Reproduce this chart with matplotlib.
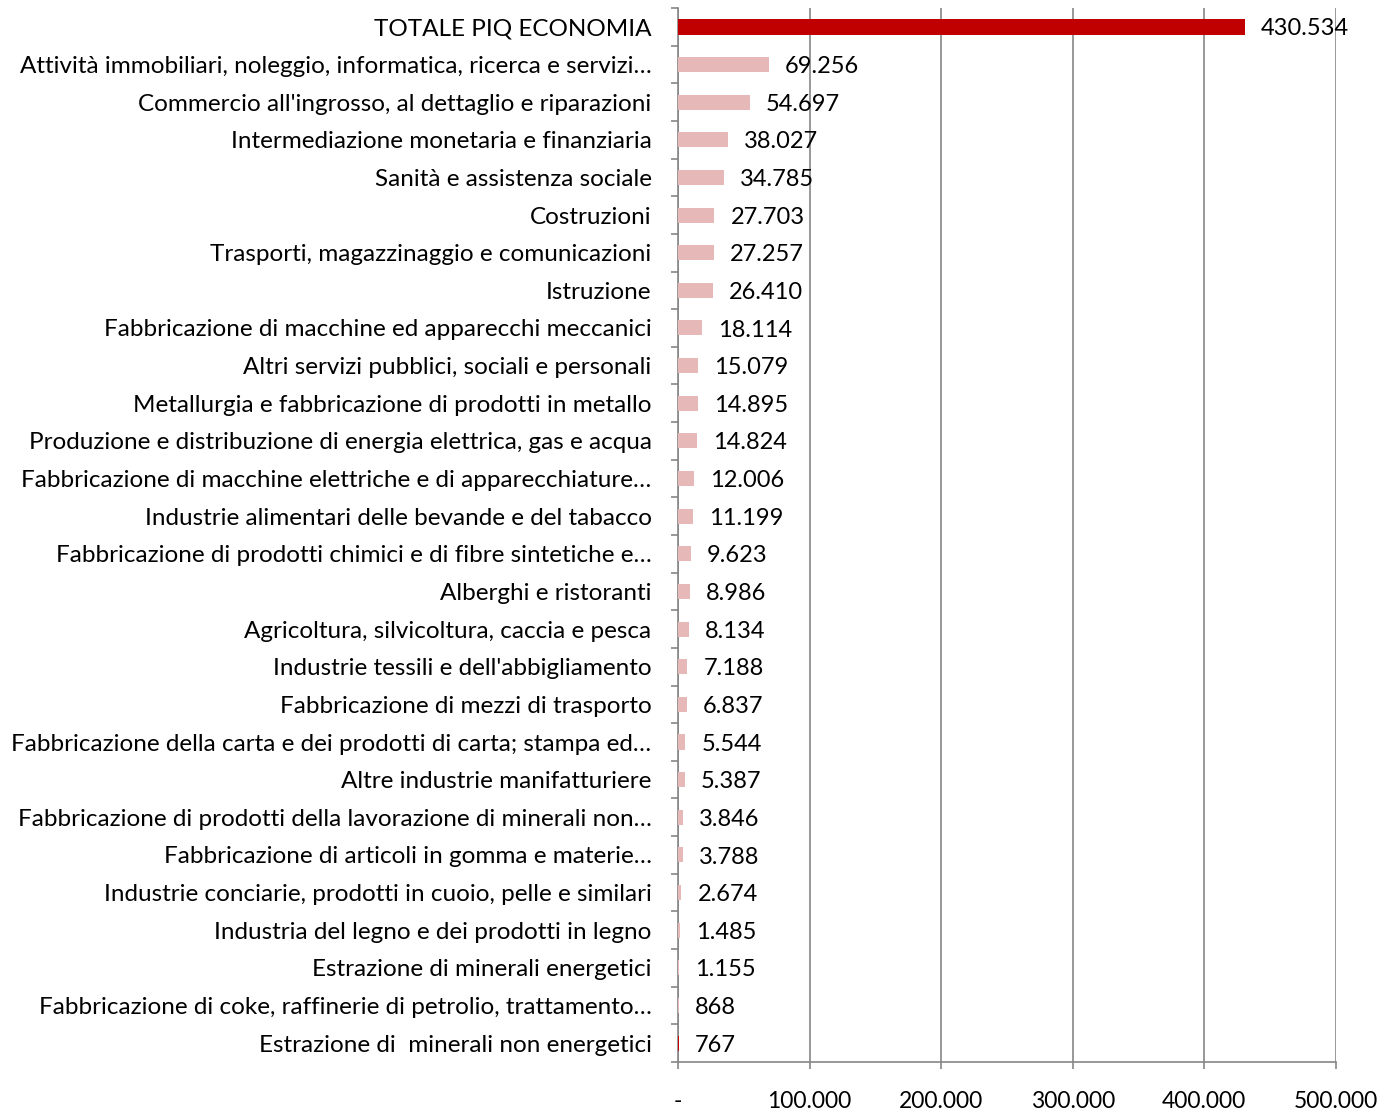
import numpy as np
import matplotlib.pyplot as plt
from matplotlib.ticker import FixedLocator

labels = [
    "TOTALE PIQ ECONOMIA",
    "Attività immobiliari, noleggio, informatica, ricerca e servizi…",
    "Commercio all'ingrosso, al dettaglio e riparazioni",
    "Intermediazione monetaria e finanziaria",
    "Sanità e assistenza sociale",
    "Costruzioni",
    "Trasporti, magazzinaggio e comunicazioni",
    "Istruzione",
    "Fabbricazione di macchine ed apparecchi meccanici",
    "Altri servizi pubblici, sociali e personali",
    "Metallurgia e fabbricazione di prodotti in metallo",
    "Produzione e distribuzione di energia elettrica, gas e acqua",
    "Fabbricazione di macchine elettriche e di apparecchiature…",
    "Industrie alimentari delle bevande e del tabacco",
    "Fabbricazione di prodotti chimici e di fibre sintetiche e…",
    "Alberghi e ristoranti",
    "Agricoltura, silvicoltura, caccia e pesca",
    "Industrie tessili e dell'abbigliamento",
    "Fabbricazione di mezzi di trasporto",
    "Fabbricazione della carta e dei prodotti di carta; stampa ed…",
    "Altre industrie manifatturiere",
    "Fabbricazione di prodotti della lavorazione di minerali non…",
    "Fabbricazione di articoli in gomma e materie…",
    "Industrie conciarie, prodotti in cuoio, pelle e similari",
    "Industria del legno e dei prodotti in legno",
    "Estrazione di minerali energetici",
    "Fabbricazione di coke, raffinerie di petrolio, trattamento…",
    "Estrazione di  minerali non energetici",
]
values = [430534, 69256, 54697, 38027, 34785, 27703, 27257, 26410, 18114,
          15079, 14895, 14824, 12006, 11199, 9623, 8986, 8134, 7188, 6837,
          5544, 5387, 3846, 3788, 2674, 1485, 1155, 868, 767]
x_ticks = [0, 100000, 200000, 300000, 400000, 500000]
x_tick_labels = ["-", "100.000", "200.000", "300.000", "400.000", "500.000"]

RED = "#C00000"
PINK = "#E6B9B8"
GRID = "#868686"


def fmt_it(v):
    return f"{v:,}".replace(",", ".")


plt.rcParams['font.family'] = ['Lato', 'DejaVu Sans']

fig = plt.figure(figsize=(13.97, 11.14), dpi=100)
ax = fig.add_axes([0.4853, 0.0467, 0.4710, 0.9461])

n = len(values)
y = np.arange(n)
colors = [PINK] * n
colors[0] = RED
colors[-1] = RED
heights = [0.42] + [0.40] * (n - 1)
ax.barh(y, values, height=heights, color=colors, zorder=3)

for yi, v in zip(y, values):
    ax.annotate(fmt_it(v), (v, yi), xytext=(11.5, -1.5), textcoords="offset points",
                ha="left", va="center", fontsize=17, color="#000000", zorder=4)

ax.set_ylim(n - 0.5, -0.5)
ax.set_xlim(0, 500000)

ax.set_yticks(y)
ax.set_yticklabels(labels, fontsize=17.5)
ax.yaxis.set_minor_locator(FixedLocator(np.arange(-0.5, n, 1.0)))
ax.tick_params(axis="y", which="major", length=0, pad=19)
ax.tick_params(axis="y", which="minor", length=5, color=GRID, width=1.2)

ax.set_xticks(x_ticks)
ax.set_xticklabels(x_tick_labels, fontsize=16.5)
ax.tick_params(axis="x", length=5, color=GRID, width=1.2, pad=16)

ax.grid(axis="x", color=GRID, linewidth=1.2, zorder=0)
for s in ["top", "right"]:
    ax.spines[s].set_visible(False)
for s in ["left", "bottom"]:
    ax.spines[s].set_color(GRID)
    ax.spines[s].set_linewidth(1.2)

fig.savefig("out.png", dpi=100)
